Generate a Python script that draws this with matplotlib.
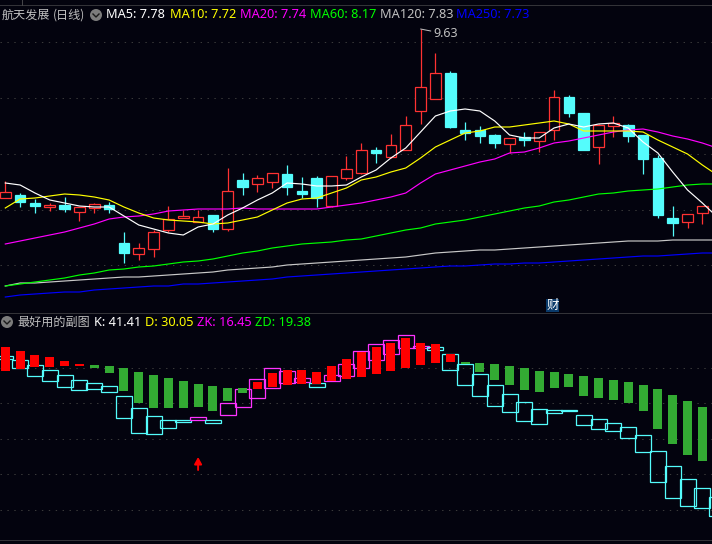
#!/usr/bin/env python3
"""K-line panel with moving averages, plus the KD-style sub-chart below it."""
import matplotlib
matplotlib.use("Agg")
import matplotlib.pyplot as plt
from matplotlib.patches import Circle, Rectangle

BG = "#03030e"
RED, CYAN = "#ff3232", "#54fcfc"
FONT_CN = ["Noto Sans CJK SC", "DejaVu Sans"]
FONT_EN = ["Noto Sans", "DejaVu Sans"]
PX = 0.72  # one pixel, in points
EDGE = 0.9  # candle and box outlines

# candles
opens = [6.25, 6.31, 6.15, 6.07, 6.11, 5.97, 6.05, 6.11, 5.35, 5.13, 5.23, 5.61, 5.85, 5.77, 5.91, 5.63,
         6.61, 6.53, 6.57, 6.73, 6.39, 6.65, 6.09, 6.65, 6.75, 7.21, 7.07, 7.21, 7.99, 8.23, 8.75, 7.61,
         7.61, 7.51, 7.33, 7.47, 7.39, 7.61, 8.27, 7.95, 7.27, 7.69, 7.71, 7.51, 7.05, 5.85, 5.77, 5.95]
closes = [6.37, 6.17, 6.09, 6.11, 6.03, 6.07, 6.13, 6.03, 5.15, 5.25, 5.57, 5.83, 5.89, 5.87, 5.63, 6.39,
          6.47, 6.65, 6.75, 6.47, 6.33, 6.25, 6.69, 6.83, 7.21, 7.15, 7.31, 7.71, 8.47, 8.75, 7.67, 7.55,
          7.49, 7.35, 7.45, 7.41, 7.57, 8.27, 7.95, 7.21, 7.71, 7.75, 7.49, 7.03, 5.91, 5.75, 5.93, 6.09]
highs = [6.59, 6.35, 6.23, 6.15, 6.27, 6.07, 6.15, 6.17, 5.57, 5.35, 5.61, 6.09, 6.01, 6.01, 5.91, 6.85,
         6.75, 6.71, 6.75, 6.91, 6.67, 6.69, 6.69, 7.09, 7.35, 7.27, 7.53, 7.89, 9.63, 9.15, 8.79, 7.77,
         7.69, 7.53, 7.45, 7.57, 7.57, 8.41, 8.31, 7.95, 7.73, 7.89, 7.73, 7.51, 7.11, 6.09, 5.93, 6.09]
lows = [6.25, 6.07, 5.95, 5.99, 5.97, 5.79, 5.95, 5.95, 4.95, 5.01, 5.07, 5.57, 5.85, 5.77, 5.57, 5.59,
        6.31, 6.37, 6.45, 6.31, 6.25, 6.07, 6.07, 6.61, 6.73, 6.95, 7.05, 7.21, 7.73, 8.23, 7.65, 7.41,
        7.35, 7.25, 7.15, 7.29, 7.17, 7.41, 7.87, 7.21, 6.93, 7.47, 7.37, 6.73, 5.85, 5.49, 5.65, 5.73]

# moving averages (one point more than the candles, runs off the right edge)
ma5 = [6.55, 6.51, 6.35, 6.21, 6.15, 6.09, 6.07, 6.07, 5.89, 5.71, 5.63, 5.55, 5.51, 5.67, 5.73, 5.91, 6.05,
       6.21, 6.35, 6.55, 6.53, 6.49, 6.49, 6.51, 6.67, 6.81, 7.05, 7.25, 7.57, 7.89, 7.99, 8.03, 7.99,
       7.79, 7.51, 7.45, 7.45, 7.65, 7.73, 7.67, 7.73, 7.75, 7.65, 7.37, 7.15, 6.77, 6.41, 6.15, 5.87]
ma10 = [6.05, 6.23, 6.25, 6.29, 6.33, 6.31, 6.27, 6.21, 6.07, 5.95, 5.85, 5.81, 5.79, 5.77, 5.73, 5.75, 5.81,
        5.87, 6.01, 6.15, 6.23, 6.25, 6.35, 6.45, 6.61, 6.67, 6.77, 6.85, 7.05, 7.27, 7.41, 7.55, 7.59,
        7.67, 7.67, 7.71, 7.75, 7.79, 7.73, 7.59, 7.59, 7.59, 7.59, 7.57, 7.41, 7.27, 7.13, 6.91, 6.71]
ma20 = [5.33, 5.39, 5.45, 5.51, 5.57, 5.65, 5.73, 5.83, 5.87, 5.89, 5.93, 5.99, 6.01, 6.03, 6.03, 6.03, 6.05,
        6.03, 6.03, 6.03, 6.03, 6.03, 6.07, 6.11, 6.15, 6.21, 6.27, 6.35, 6.55, 6.73, 6.81, 6.89, 6.97,
        7.03, 7.15, 7.17, 7.25, 7.35, 7.39, 7.45, 7.51, 7.57, 7.61, 7.63, 7.57, 7.49, 7.43, 7.35, 7.25]
ma60 = [4.49, 4.53, 4.57, 4.61, 4.65, 4.71, 4.75, 4.81, 4.83, 4.87, 4.89, 4.93, 4.97, 4.99, 5.03, 5.09, 5.15,
        5.19, 5.25, 5.29, 5.33, 5.35, 5.37, 5.41, 5.43, 5.49, 5.55, 5.61, 5.65, 5.73, 5.77, 5.81, 5.87,
        5.93, 5.99, 6.05, 6.09, 6.17, 6.21, 6.27, 6.33, 6.35, 6.39, 6.41, 6.43, 6.47, 6.51, 6.53, 6.53]
ma120 = [4.49, 4.55, 4.55, 4.57, 4.59, 4.61, 4.63, 4.65, 4.67, 4.67, 4.69, 4.71, 4.73, 4.75, 4.77, 4.81, 4.83,
         4.85, 4.87, 4.91, 4.93, 4.95, 4.97, 4.99, 5.01, 5.03, 5.05, 5.07, 5.11, 5.15, 5.17, 5.19, 5.21,
         5.21, 5.23, 5.25, 5.27, 5.29, 5.31, 5.33, 5.35, 5.37, 5.39, 5.39, 5.39, 5.41, 5.41, 5.41, 5.41]
ma250 = [4.27, 4.31, 4.33, 4.35, 4.37, 4.37, 4.41, 4.43, 4.45, 4.47, 4.49, 4.49, 4.53, 4.53, 4.55, 4.57, 4.59,
         4.61, 4.63, 4.67, 4.69, 4.71, 4.73, 4.75, 4.77, 4.79, 4.81, 4.83, 4.85, 4.87, 4.89, 4.89, 4.91,
         4.93, 4.93, 4.95, 4.95, 4.97, 4.99, 5.01, 5.03, 5.05, 5.07, 5.09, 5.09, 5.11, 5.13, 5.15, 5.15]
price_grid = [9.37, 8.25, 7.13, 6.01, 4.91]

# sub-chart: solid bars
bar_tops = [163, 159, 155, 153, 149, 146, 145, 144, 142, 138, 135, 132, 129, 126, 124, 122,
            122, 128, 137, 140, 140, 138, 144, 151, 158, 163, 167, 172, 167, 166, 156, 148,
            147, 146, 144, 142, 139, 138, 136, 134, 132, 130, 128, 125, 121, 115, 109, 103]
bar_bots = [139, 141, 143, 143, 144, 144, 142, 137, 119, 107, 102, 102, 102, 103, 99, 109,
            117, 121, 123, 125, 126, 126, 129, 131, 133, 136, 139, 142, 145, 147, 148, 146,
            138, 130, 125, 120, 118, 122, 123, 114, 112, 110, 107, 99, 81, 66, 55, 49]
bar_kinds = "RRRRRRGGGGGGGGGGGRRRRRRRRRRRRRRGGGGGGGGGGGGGGGGG"

# sub-chart: hollow boxes
box_tops = [154, 150, 145, 140, 135, 130, 127, 124, 114, 102, 94, 90, 90, 93, 90, 107, 121,
            131, 142, 139, 132, 127, 135, 146, 159, 166, 170, 175, 164, 163, 156, 146, 136,
            125, 116, 108, 101, 100, 100, 95, 91, 87, 83, 75, 59, 44, 31, 22, 13]
box_bots = [151, 142, 134, 129, 123, 120, 121, 118, 92, 77, 76, 82, 88, 90, 87, 95, 103,
            112, 122, 127, 128, 123, 129, 134, 142, 150, 156, 162, 162, 160, 140, 125, 114,
            104, 98, 89, 86, 97, 99, 85, 81, 79, 72, 58, 28, 12, 4, 2, -6]
box_kinds = "CCCCCCCCCCCCCMCMMMMMMCMMMMMMMCCCCCCCCCCCCCCCCCCCC"
sub_grid = [142, 107, 71, 36, 0]

W, H = 712, 544
fig = plt.figure(figsize=(W / 100, H / 100), dpi=100, facecolor=BG)


def pane(top, bottom):
    ax = fig.add_axes([0, 1 - bottom / H, 1, (bottom - top) / H], facecolor=BG)
    ax.set_xlim(-0.357, 47.65)
    ax.set_xticks([])
    ax.set_yticks([])
    for side in ("left", "right", "bottom"):
        ax.spines[side].set_visible(False)
    ax.spines["top"].set_color("#333338")
    ax.spines["top"].set_linewidth(PX)
    return ax


# ---- top pane --------------------------------------------------------------
ax1 = pane(5, 313)
ax1.set_ylim(3.95, 10.11)
for g in price_grid:
    ax1.axhline(g, color="#3a3a3a", lw=PX, ls=(0, (1.4, 5.5)), zorder=1)

xs = list(range(len(opens)))
colors = [RED if c >= o else CYAN for o, c in zip(opens, closes)]
ax1.vlines(xs, lows, highs, colors=colors, lw=EDGE, zorder=2)
ax1.bar(xs, [abs(c - o) for o, c in zip(opens, closes)], bottom=[min(o, c) for o, c in zip(opens, closes)],
        width=0.72, facecolor=[BG if c == RED else CYAN for c in colors], edgecolor=colors, lw=EDGE, zorder=3)

for vals, col in ((ma250, "#0000ff"), (ma120, "#c8c8c8"), (ma60, "#00ff00"),
                  (ma20, "#ff00ff"), (ma10, "#ffff00"), (ma5, "#ffffff")):
    ax1.plot(range(len(vals)), vals, color=col, lw=0.85, zorder=4)

ax1.annotate("9.63", xy=(28, 9.63), xytext=(13, -5), textcoords="offset pixels", color="#c0c0c0",
             fontsize=9, family=FONT_EN, va="center",
             arrowprops=dict(arrowstyle="-", color="#c0c0c0", lw=PX, shrinkA=0, shrinkB=0))

# ---- bottom pane -----------------------------------------------------------
ax2 = pane(313, 544)
ax2.set_ylim(-34, 197)
for g in sub_grid:
    ax2.axhline(g, color="#3a3a3a", lw=PX, ls=(0, (1.4, 5.5)), zorder=1)
ax2.axhline(-30, color="#333338", lw=PX, zorder=1)

bx = list(range(len(box_tops)))
box_cols = [CYAN if k == "C" else "#ff33ff" for k in box_kinds]
ax2.bar(bx, [t - b for t, b in zip(box_tops, box_bots)], bottom=box_bots, width=1.08,
        facecolor="none", edgecolor=box_cols, lw=EDGE, zorder=2)
sx = list(range(len(bar_tops)))
ax2.bar(sx, [t - b for t, b in zip(bar_tops, bar_bots)], bottom=bar_bots, width=0.61,
        color=["#ff0000" if k == "R" else "#33aa33" for k in bar_kinds], lw=0, zorder=3)

ax2.annotate("", xy=(13, 53), xytext=(13, 40), zorder=5,
             arrowprops=dict(arrowstyle="-|>,head_width=0.22,head_length=0.4", color="#ff0000", lw=1.4,
                             shrinkA=0, shrinkB=0))

# ---- header text and small icons, placed in picture pixels ---------------------
top = fig.add_axes([0, 0, 1, 1], facecolor="none")
top.set_xlim(0, W)
top.set_ylim(H, 0)
top.axis("off")
top.plot([22, 22], [0, 5], color="#444448", lw=PX)


def chevron(cx, cy):
    top.add_patch(Circle((cx, cy), 6, facecolor="#7c7c7c", edgecolor="none"))
    top.plot([cx - 3, cx, cx + 3], [cy - 1, cy + 2, cy - 1], color="#1a1a1a", lw=1.0)


chevron(96, 15)
chevron(7, 322)

top.text(2, 15, "航天发展", color="#c0c0c0", fontsize=8.7, family=FONT_CN, va="center")
top.text(53, 15, "(日线)", color="#c0c0c0", fontsize=8.7, family=FONT_CN, va="center")
top.text(17, 322, "最好用的副图", color="#c0c0c0", fontsize=8.7, family=FONT_CN, va="center")

for px, label, col in ((106, "MA5: 7.78", "#ffffff"), (170, "MA10: 7.72", "#ffff00"),
                       (240, "MA20: 7.74", "#ff00ff"), (310, "MA60: 8.17", "#00ff00"),
                       (380, "MA120: 7.83", "#c0c0c0"), (456, "MA250: 7.73", "#0000ff")):
    top.text(px, 15, label, color=col, fontsize=9.2, family=FONT_EN, va="center")

for px, label, col in ((94, "K: 41.41", "#ffffff"), (145, "D: 30.05", "#ffff00"),
                       (197, "ZK: 16.45", "#ff00ff"), (255, "ZD: 19.38", "#00ff00")):
    top.text(px, 322, label, color=col, fontsize=9.2, family=FONT_EN, va="center")

top.add_patch(Rectangle((546, 299), 13, 13, facecolor="#0a3a6a", edgecolor="none"))
top.text(552.5, 305.5, "财", color="#ffffff", fontsize=9, family=FONT_CN, ha="center", va="center")

fig.savefig("out.png", dpi=100, facecolor=BG)
